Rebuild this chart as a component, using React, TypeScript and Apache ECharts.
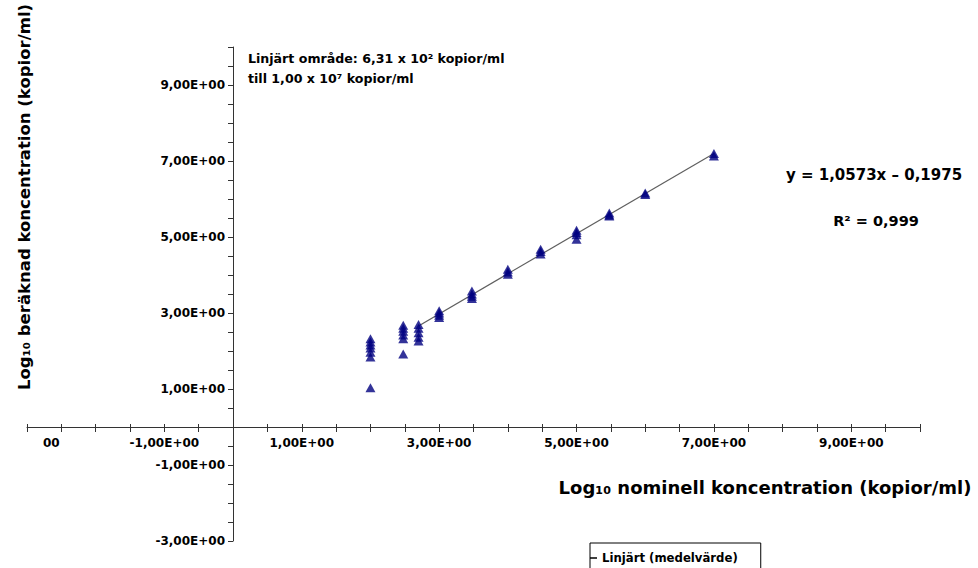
import React, { useEffect, useRef } from "react";
import * as echarts from "echarts";

// Nominal log10 concentration levels
const nominalLevels: number[] = [2.0, 2.477, 2.7, 3.0, 3.477, 4.0, 4.477, 5.0, 5.477, 6.0, 7.0];
// Measured log10 values per level (replicates)
const level200: number[] = [2.32, 2.24, 2.16, 2.08, 1.97, 1.84, 1.03];
const level2477: number[] = [2.68, 2.6, 2.52, 2.42, 2.32, 1.92];
const level27: number[] = [2.7, 2.6, 2.48, 2.36, 2.26];
const level30: number[] = [3.06, 3.0, 2.94, 2.88];
const level3477: number[] = [3.58, 3.5, 3.44, 3.38];
const level40: number[] = [4.15, 4.08, 4.02];
const level4477: number[] = [4.68, 4.62, 4.55];
const level50: number[] = [5.18, 5.12, 5.06, 4.94];
const level5477: number[] = [5.63, 5.58, 5.55];
const level60: number[] = [6.16, 6.12];
const level70: number[] = [7.2, 7.13];
const measured: number[][] = [
  level200, level2477, level27, level30, level3477, level40,
  level4477, level50, level5477, level60, level70,
];
// Fit line endpoints (y = 1,0573x – 0,1975 over the linear range)
const fitX: number[] = [2.7, 7.0];
const fitY: number[] = [2.66, 7.2];

const seriesName = "Linjärt (medelvärde)";
const FONT = "'DejaVu Sans', sans-serif";

const GRID_LEFT = 27;
const GRID_TOP = 47;
const GRID_W = 893;
const GRID_H = 494;
const AX_MIN = -3;
const AX_MAX = 10;
// offsets so that axes sit at the zero crossing
const Y_OFFSET = -Math.round(((0 - AX_MIN) / (AX_MAX - AX_MIN)) * GRID_W);
const X_OFFSET = -Math.round(((0 - AX_MIN) / (AX_MAX - AX_MIN)) * GRID_H);

function fmt(v: number): string {
  return v.toFixed(2).replace(".", ",") + "E+00";
}
function isOdd(v: number): boolean {
  return Math.abs(v - Math.round(v)) < 1e-9 && Math.abs(Math.round(v)) % 2 === 1;
}

export default function App() {
  const ref = useRef<HTMLDivElement>(null);
  useEffect(() => {
    if (!ref.current) return;
    const chart = echarts.init(ref.current, undefined, { renderer: "svg" });
    const scatterData: number[][] = [];
    nominalLevels.forEach((x, i) => {
      measured[i].forEach((y) => scatterData.push([x, y]));
    });
    const lineData = fitX.map((x, i) => [x, fitY[i]]);
    const axisCommon = {
      type: "value" as const,
      min: AX_MIN,
      max: AX_MAX,
      interval: 0.5,
      splitLine: { show: false },
    };
    chart.setOption({
      animation: false,
      backgroundColor: "#fff",
      textStyle: { fontFamily: FONT },
      grid: {
        left: GRID_LEFT,
        top: GRID_TOP,
        width: GRID_W,
        height: GRID_H,
        containLabel: false,
        outerBoundsMode: "none",
      },
      xAxis: [
        {
          ...axisCommon,
          position: "bottom",
          offset: X_OFFSET,
          axisLine: { onZero: false, lineStyle: { color: "#333", width: 1 } },
          axisTick: { show: true, length: 5, lineStyle: { color: "#333" } },
          axisLabel: {
            interval: 0,
            margin: 10,
            color: "#000",
            fontWeight: "bold",
            fontSize: 12,
            fontFamily: FONT,
            formatter: (v: number) => (isOdd(v) && v > -3 ? fmt(v) : ""),
          },
        },
        {
          ...axisCommon,
          position: "bottom",
          offset: X_OFFSET,
          axisLine: { show: false, onZero: false },
          axisTick: { show: true, inside: true, length: 3, lineStyle: { color: "#333" } },
          axisLabel: { show: false },
        },
      ],
      yAxis: {
        ...axisCommon,
        position: "left",
        offset: Y_OFFSET,
        axisLine: { onZero: false, lineStyle: { color: "#333", width: 1 } },
        axisTick: { show: true, length: 5, lineStyle: { color: "#333" } },
        axisLabel: {
          interval: 0,
          margin: 8,
          color: "#000",
          fontWeight: "bold",
          fontSize: 12,
          fontFamily: FONT,
          formatter: (v: number) => (isOdd(v) ? fmt(v) : ""),
        },
      },
      legend: {
        data: [seriesName],
        left: 590,
        top: 543,
        icon: "rect",
        itemWidth: 7,
        itemHeight: 1.5,
        itemGap: 0,
        borderColor: "#000",
        borderWidth: 1,
        padding: [9, 23, 20, 0],
        textStyle: { color: "#000", fontWeight: "bold", fontSize: 11.7, fontFamily: FONT },
      },
      series: [
        {
          name: seriesName,
          type: "line",
          xAxisIndex: 0,
          data: lineData,
          showSymbol: false,
          lineStyle: { color: "#5f5f5f", width: 1.2 },
          itemStyle: { color: "#000" },
          z: 2,
        },
        {
          name: "data",
          type: "scatter",
          xAxisIndex: 0,
          data: scatterData,
          symbol: "triangle",
          symbolSize: [10, 9],
          itemStyle: { color: "#000080" },
          z: 3,
        },
      ],
      graphic: [
        {
          type: "text",
          left: 43,
          top: 437,
          style: { text: "00", fill: "#000", font: `bold 12px ${FONT}` },
        },
        {
          type: "text",
          x: 24,
          y: 197,
          rotation: Math.PI / 2,
          style: {
            text: "Log₁₀ beräknad koncentration (kopior/ml)",
            fill: "#000",
            font: `bold 16.5px ${FONT}`,
            align: "center",
            verticalAlign: "middle",
          },
        },
        {
          type: "text",
          x: 765,
          y: 487,
          style: {
            text: "Log₁₀ nominell koncentration (kopior/ml)",
            fill: "#000",
            font: `bold 18px ${FONT}`,
            align: "center",
            verticalAlign: "middle",
          },
        },
        {
          type: "text",
          x: 248,
          y: 58,
          style: {
            text: "Linjärt område: 6,31 x 10² kopior/ml",
            fill: "#000",
            font: `bold 12.6px ${FONT}`,
            align: "left",
            verticalAlign: "middle",
          },
        },
        {
          type: "text",
          x: 248,
          y: 78,
          style: {
            text: "till 1,00 x 10⁷ kopior/ml",
            fill: "#000",
            font: `bold 12.6px ${FONT}`,
            align: "left",
            verticalAlign: "middle",
          },
        },
        {
          type: "text",
          x: 874,
          y: 175,
          style: {
            text: "y = 1,0573x – 0,1975",
            fill: "#000",
            font: `bold 15px ${FONT}`,
            align: "center",
            verticalAlign: "middle",
          },
        },
        {
          type: "text",
          x: 876,
          y: 221,
          style: {
            text: "R² = 0,999",
            fill: "#000",
            font: `bold 14.5px ${FONT}`,
            align: "center",
            verticalAlign: "middle",
          },
        },
      ],
    });
    return () => chart.dispose();
  }, []);
  return (
    <div
      ref={ref}
      style={{ position: "fixed", left: 0, top: 0, width: 978, height: 568 }}
    />
  );
}
